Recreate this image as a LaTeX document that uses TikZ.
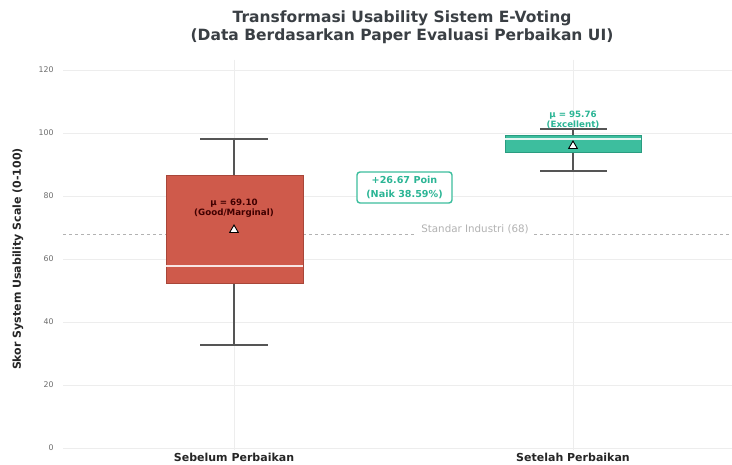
\documentclass[tikz,border=0pt]{standalone}
\usepackage{fontspec}
\setmainfont{DejaVu Sans}
\usetikzlibrary{shapes.geometric}
\definecolor{redbox}{HTML}{CF5A4B}
\definecolor{rededge}{HTML}{A84639}
\definecolor{tealbox}{HTML}{3DBE9E}
\definecolor{tealedge}{HTML}{2A9C80}
\definecolor{tealtxt}{HTML}{2BB595}
\definecolor{titlegray}{HTML}{3A3F44}
\definecolor{gridc}{HTML}{EDEDED}
\definecolor{whisk}{HTML}{555555}
\begin{document}
\begin{tikzpicture}[x=1pt,y=-1pt,
  grid/.style={gridc,line width=0.6pt},
  whisker/.style={whisk,line width=1.1pt},
  ticklab/.style={font=\fontsize{7.8}{8}\selectfont,text=gray!85!black,anchor=east},
  catlab/.style={font=\fontsize{11}{12}\selectfont\bfseries,text=black!85,inner sep=0pt},
  meanmark/.style={regular polygon,regular polygon sides=3,draw=black,fill=white,line width=0.9pt,inner sep=0pt,minimum size=10pt},
  annot/.style={font=\fontsize{8.7}{10.5}\selectfont\bfseries,align=center,inner sep=0pt}]
\useasboundingbox[fill=white] (0,0) rectangle (732,465);
% grid
\foreach \yy in {70,133,196,259,322,385,448} \draw[grid] (63,\yy) -- (732,\yy);
\draw[grid] (234,60) -- (234,450);
\draw[grid] (573,60) -- (573,450);
% ticks
\node[ticklab] (t120) at (57,70) {120};
\node[ticklab] (t100) at (57,133) {100};
\node[ticklab] (t80) at (57,196) {80};
\node[ticklab] (t60) at (57,259) {60};
\node[ticklab] (t40) at (57,322) {40};
\node[ticklab] (t20) at (57,385) {20};
\node[ticklab] (t0) at (57,448) {0};
\node[rotate=90,font=\fontsize{11}{12}\selectfont\bfseries,text=black!85] (ylab) at (18,259) {Skor System Usability Scale (0-100)};
% title
\node[font=\fontsize{15.5}{18}\selectfont\bfseries,text=titlegray,align=center] (title) at (402,27) {Transformasi Usability Sistem E-Voting\\(Data Berdasarkan Paper Evaluasi Perbaikan UI)};
% reference line
\draw[gray!60,dashed,line width=0.9pt] (63,234) -- (416,234);
\draw[gray!60,dashed,line width=0.9pt] (534,234) -- (732,234);
\node[font=\fontsize{10.3}{11}\selectfont,text=gray!60] (std) at (475,229.5) {Standar Industri (68)};
% left box
\coordinate (lct) at (234,139);
\coordinate (lcb) at (234,345);
\draw[whisker] (200,139) -- (268,139);
\draw[whisker] (200,345) -- (268,345);
\draw[whisker] (lct) -- (234,175);
\draw[whisker] (234,283) -- (lcb);
\node[draw=rededge,fill=redbox,line width=0.8pt,minimum width=137pt,minimum height=108pt,inner sep=0pt] (lbox) at (234.5,229) {};
\draw[white!85!redbox,line width=1.6pt] (166,266) -- (303,266);
\node[meanmark] (lmean) at (234,230) {};
\node[annot,text=black!75!red] (ltxt) at (234,208) {μ = 69.10\\(Good/Marginal)};
% right box
\draw[whisker] (540,129) -- (607,129);
\draw[whisker] (540,171) -- (607,171);
\draw[whisker] (573,129) -- (573,135);
\draw[whisker] (573,152) -- (573,171);
\node[draw=tealedge,fill=tealbox,line width=0.8pt,minimum width=136pt,minimum height=17pt,inner sep=0pt] (rbox) at (573,143.5) {};
\draw[white!85!tealbox,line width=1.4pt] (505,139) -- (641,139);
\node[meanmark] (rmean) at (573,146) {};
\node[annot,text=tealtxt] (rtxt) at (573,120) {μ = 95.76\\(Excellent)};
% annotation
\node[font=\fontsize{9.6}{14.5}\selectfont\bfseries,align=center,inner sep=0pt,text=tealtxt,draw=tealbox,fill=white,rounded corners=3pt,line width=1.4pt,minimum width=95pt,minimum height=31pt] (delta) at (404.5,187.5) {+26.67 Poin\\(Naik 38.59\%)};
% category labels
\node[catlab] (cl) at (234,457) {Sebelum Perbaikan};
\node[catlab] (cr) at (573,457) {Setelah Perbaikan};
\end{tikzpicture}
\end{document}
